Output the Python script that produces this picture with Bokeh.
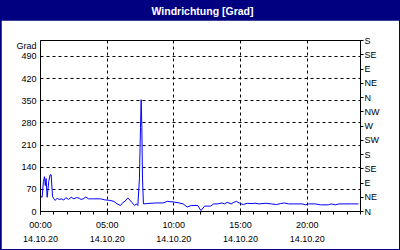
from bokeh.plotting import figure
from bokeh.layouts import column
from bokeh.models import Range1d, LinearAxis, FixedTicker
from bokeh.core.properties import value
from bokeh.embed import file_html
from bokeh.resources import INLINE

# ---- data (hours since 14.10.20 00:00, wind direction in degrees) ----
hours = [0.0, 0.12, 0.22, 0.3, 0.36, 0.42, 0.5, 0.62, 0.72, 0.8, 0.9, 1.0, 1.1, 1.25,
         1.4, 1.6, 1.75, 1.9, 2.1, 2.3, 2.5, 2.7, 2.9, 3.05, 3.2, 3.4, 3.6, 3.8, 4.0,
         4.5, 4.8, 5.0, 5.2, 5.5, 5.75, 6.0, 6.2, 6.35, 6.55, 6.85, 7.05, 7.2, 7.3,
         7.42, 7.5, 7.55, 7.6, 7.65, 7.72, 8.0, 8.6, 9.2, 9.5, 10.0, 10.4, 10.7, 11.0,
         11.3, 11.8, 11.95, 12.05, 12.3, 12.75, 13.0, 13.3, 13.6, 13.8, 14.0, 14.3,
         14.5, 14.7, 14.9, 15.0, 15.2, 15.5, 15.8, 16.1, 16.4, 16.9, 17.3, 17.7, 18.0,
         18.3, 18.6, 19.0, 19.6, 19.9, 20.1, 20.6, 21.0, 21.6, 21.8, 22.1, 22.4, 23.3,
         23.85]
direction = [48, 45, 95, 110, 82, 104, 45, 95, 116, 116, 48, 40, 35, 42,
             38, 40, 36, 44, 38, 45, 40, 44, 42, 38, 40, 46, 40, 40, 40,
             40, 37, 36, 35, 32, 24, 19, 29, 33, 43, 29, 19, 24, 19,
             103, 266, 353, 266, 103, 24, 25, 27, 27, 32, 30, 27, 24, 14,
             19, 19, 8, 3, 17, 17, 24, 24, 27, 24, 29, 24,
             29, 32, 27, 25, 22, 26, 25, 26, 24, 26, 24, 22, 25,
             27, 24, 24, 24, 21, 24, 24, 21, 21, 24, 21, 24, 24,
             24]

title_text = "Windrichtung [Grad]"
y_unit = "Grad"
y_unit_pos = 524
y_ticks = [0, 70, 140, 210, 280, 350, 420, 490]
x_ticks = [0, 5, 10, 15, 20]
x_time_labels = ["00:00", "05:00", "10:00", "15:00", "20:00"]
x_date_labels = ["14.10.20", "14.10.20", "14.10.20", "14.10.20", "14.10.20"]
compass_ticks = [0, 45, 90, 135, 180, 225, 270, 315, 360, 405, 450, 495, 540]
compass_labels = ["N", "NE", "E", "SE", "S", "SW", "W", "NW", "N", "NE", "E", "SE", "S"]

FONT = "Liberation Sans"
FS = "9px"
NAVY = "#000080"

# ---- title bar ----
tb = figure(width=400, height=20, output_backend="svg", toolbar_location=None,
            x_range=Range1d(0, 400), y_range=Range1d(0, 20),
            x_axis_type=None, y_axis_type=None, min_border=0,
            background_fill_color=NAVY, border_fill_color=NAVY, outline_line_color=None)
tb.xgrid.visible = False
tb.ygrid.visible = False
tb.text(x=[202.5], y=[10], text=[title_text], text_align="center",
        text_baseline="middle", text_color="white", text_font=value(FONT),
        text_font_style="bold", text_font_size="10.5px")

# ---- main chart ----
p = figure(width=398, height=229, output_backend="svg", toolbar_location=None,
           x_range=Range1d(0, 24), y_range=Range1d(0, 540),
           min_border_left=39, min_border_right=39, min_border_top=20,
           min_border_bottom=38, background_fill_color="white",
           border_fill_color="white", outline_line_color="black")
p.margin = (0, 1, 1, 1)
p.extra_y_ranges = {"compass": Range1d(0, 540)}

# grids
p.xgrid.ticker = FixedTicker(ticks=x_ticks[1:])
p.ygrid.ticker = FixedTicker(ticks=y_ticks[1:])
for g in (p.xgrid, p.ygrid):
    g.grid_line_color = "black"
    g.grid_line_dash = "3 3"
    g.grid_line_width = 1

def style_labels(ax):
    ax.major_label_text_font = FONT
    ax.major_label_text_font_size = FS
    ax.major_label_text_color = "black"

# left axis (with unit label on top)
ya = p.yaxis[0]
ya.ticker = FixedTicker(ticks=y_ticks + [y_unit_pos])
ya.major_label_overrides = {y_unit_pos: y_unit}
ya.major_tick_out = 0
ya.major_tick_in = 0
ya.minor_tick_out = 0
ya.minor_tick_in = 0
ya.major_label_standoff = 4
ya.axis_line_color = "black"
style_labels(ya)

# bottom axis: times
xa = p.xaxis[0]
xa.ticker = FixedTicker(ticks=x_ticks, minor_ticks=list(range(25)))
xa.major_label_overrides = {t: l for t, l in zip(x_ticks, x_time_labels)}
xa.major_tick_out = 3
xa.major_tick_in = 0
xa.minor_tick_out = 3
xa.minor_tick_in = 0
xa.major_label_standoff = 5
style_labels(xa)

# second bottom axis: dates
da = LinearAxis(ticker=FixedTicker(ticks=x_ticks))
da.major_label_overrides = {t: l for t, l in zip(x_ticks, x_date_labels)}
da.axis_line_color = None
da.major_tick_line_color = None
da.minor_tick_line_color = None
da.major_tick_out = 0
da.major_tick_in = 0
da.minor_tick_out = 0
da.minor_tick_in = 0
da.major_label_standoff = 3
style_labels(da)
p.add_layout(da, "below")

# right axis (compass)
ra = LinearAxis(y_range_name="compass")
ra.ticker = FixedTicker(ticks=compass_ticks)
ra.major_label_overrides = {t: l for t, l in zip(compass_ticks, compass_labels)}
ra.major_tick_out = 3
ra.major_tick_in = 0
ra.minor_tick_out = 0
ra.minor_tick_in = 0
ra.major_label_standoff = 1
style_labels(ra)
p.add_layout(ra, "right")

# data line
p.line(hours, direction, line_color="#0000FF", line_width=1)

layout = column(tb, p, spacing=0, styles={"background-color": NAVY})
open("out.html", "w").write(file_html(layout, INLINE))
